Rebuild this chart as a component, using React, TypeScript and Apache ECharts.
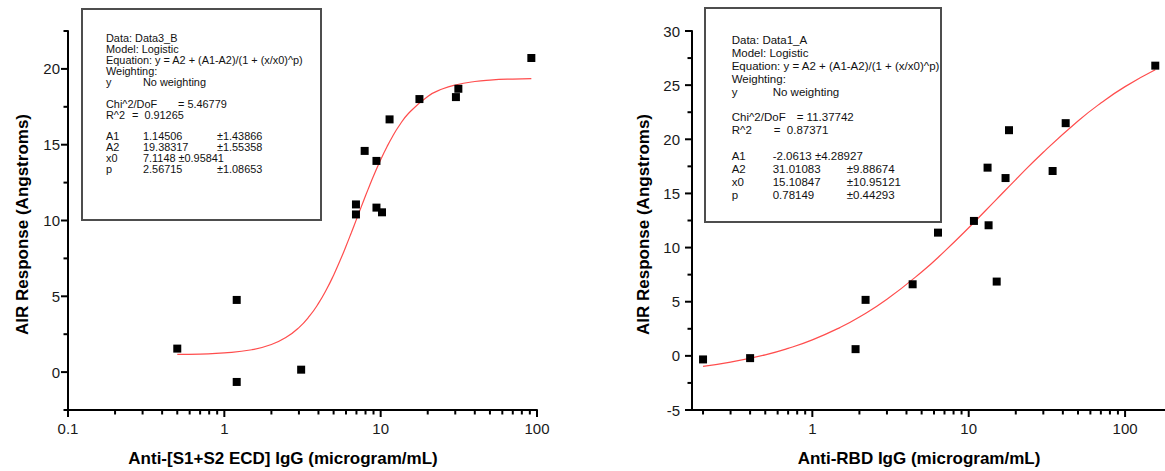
import React, { useEffect, useRef } from 'react';
import * as echarts from 'echarts';

// ---------- data ----------
const leftX = [0.5, 1.2, 1.2, 3.1, 6.95, 6.95, 7.9, 9.4, 9.4, 10.2, 11.4, 17.7, 30.3, 31.4, 92];
const leftY = [1.55, 4.76, -0.65, 0.16, 11.06, 10.4, 14.59, 13.93, 10.85, 10.54, 16.67, 18.01, 18.14, 18.69, 20.72];

const leftFitX = [0.5, 0.7, 1, 1.5, 2, 2.5, 3, 3.5, 4, 4.5, 5, 5.5, 6, 6.5, 7, 7.5, 8, 8.5, 9, 10, 11, 12, 13, 15, 20, 25, 30, 40, 50, 70, 92];
const leftFitY = [1.165, 1.192, 1.263, 1.474, 1.82, 2.309, 2.936, 3.685, 4.531, 5.445, 6.396, 7.356, 8.301, 9.211, 10.074, 10.88, 11.627, 12.311, 12.935, 14.013, 14.891, 15.604, 16.183, 17.04, 18.183, 18.686, 18.94, 19.169, 19.262, 19.332, 19.358];

const rightX = [0.2, 0.4, 1.89, 2.19, 4.38, 6.36, 10.8, 13.2, 13.4, 15.1, 17.2, 18.1, 34.4, 41.7, 156];
const rightY = [-0.33, -0.21, 0.62, 5.17, 6.61, 11.38, 12.46, 17.38, 12.06, 6.86, 16.42, 20.84, 17.07, 21.49, 26.8];

const rightFitX = [0.2, 0.3, 0.5, 0.7, 1, 1.5, 2, 3, 5, 7, 10, 15, 20, 30, 50, 70, 100, 156];
const rightFitY = [-0.972, -0.584, 0.094, 0.688, 1.477, 2.61, 3.586, 5.228, 7.744, 9.648, 11.831, 14.429, 16.28, 18.805, 21.69, 23.345, 24.864, 26.418];

const leftXMajor = [0.1, 1, 10, 100];
const leftXMinor = [0.2, 0.3, 0.4, 0.5, 0.6, 0.7, 0.8, 0.9, 2, 3, 4, 5, 6, 7, 8, 9, 20, 30, 40, 50, 60, 70, 80, 90];
const leftYMajor = [0, 5, 10, 15, 20];
const leftYMinor = [-2.5, 2.5, 7.5, 12.5, 17.5, 22.5];

const rightXMajor = [1, 10, 100];
const rightXMinor = [0.2, 0.3, 0.4, 0.5, 0.6, 0.7, 0.8, 0.9, 2, 3, 4, 5, 6, 7, 8, 9, 20, 30, 40, 50, 60, 70, 80, 90];
const rightYMajor = [-5, 0, 5, 10, 15, 20, 25, 30];
const rightYMinor = [-2.5, 2.5, 7.5, 12.5, 17.5, 22.5, 27.5];

const leftXRange = [0.1, 100];
const leftYRange = [-2.5, 22.5];
const rightXRange = [0.17, 180];
const rightYRange = [-5, 30];

const leftXTitle = 'Anti-[S1+S2 ECD] IgG (microgram/mL)';
const rightXTitle = 'Anti-RBD IgG (microgram/mL)';
const yTitle = 'AIR Response (Angstroms)';

const leftBoxRows: string[][] = [
  ['Data: Data3_B'],
  ['Model: Logistic'],
  ['Equation: y = A2 + (A1-A2)/(1 + (x/x0)^p)'],
  ['Weighting:'],
  ['y', 'No weighting'],
  [],
  ['Chi^2/DoF', '= 5.46779'],
  ['R^2', '=  0.91265'],
  [],
  ['A1', '1.14506', '±1.43866'],
  ['A2', '19.38317', '±1.55358'],
  ['x0', '7.1148 ±0.95841'],
  ['p', '2.56715', '±1.08653'],
];

const rightBoxRows: string[][] = [
  ['Data: Data1_A'],
  ['Model: Logistic'],
  ['Equation: y = A2 + (A1-A2)/(1 + (x/x0)^p)'],
  ['Weighting:'],
  ['y', 'No weighting'],
  [],
  ['Chi^2/DoF', '= 11.37742'],
  ['R^2', '=  0.87371'],
  [],
  ['A1', '-2.0613 ±4.28927'],
  ['A2', '31.01083', '±9.88674'],
  ['x0', '15.10847', '±10.95121'],
  ['p', '0.78149', '±0.44293'],
];

const FONT = '"Liberation Sans", Arial, Helvetica, sans-serif';
const AXIS_COLOR = '#000';
const LABEL_SIZE = 15;

function zip(xs: number[], ys: number[]) {
  return xs.map((x, i) => [x, ys[i]]);
}

function boxGraphics(
  rows: string[][],
  rect: { x: number; y: number; w: number; h: number },
  textX: number,
  firstY: number,
  step: number,
  fontSize: number,
  col2: number,
  col3: number,
  chiCol: number,
  rCol: number
) {
  const els: any[] = [
    {
      type: 'rect',
      shape: { x: rect.x, y: rect.y, width: rect.w, height: rect.h },
      style: { fill: '#fff', stroke: '#4d4d4d', lineWidth: 2 },
      z: 10,
    },
  ];
  rows.forEach((row, i) => {
    row.forEach((t, j) => {
      let x = textX;
      if (j === 1) {
        if (row[0] === 'Chi^2/DoF') x = textX + chiCol;
        else if (row[0] === 'R^2') x = textX + rCol;
        else x = textX + col2;
      } else if (j === 2) x = textX + col3;
      els.push({
        type: 'text',
        x,
        y: firstY + i * step,
        z: 11,
        style: {
          text: t,
          font: `${fontSize}px ${FONT}`,
          fill: '#111',
          align: 'left',
          verticalAlign: 'middle',
        },
      });
    });
  });
  return els;
}

function xAxisOpt(gridIndex: number, range: number[], labels: number[]) {
  return {
    type: 'log',
    gridIndex,
    min: range[0],
    max: range[1],
    position: 'bottom',
    logBase: 10,
    axisLine: { show: true, onZero: false, lineStyle: { color: AXIS_COLOR, width: 2 } },
    axisTick: { show: false },
    axisLabel: {
      show: true,
      customValues: labels,
      margin: 11,
      fontSize: LABEL_SIZE,
      fontFamily: FONT,
      color: '#1a1a1a',
      formatter: (v: number) => String(v),
    },
    splitLine: { show: false },
    minorTick: { show: false },
  };
}

function yAxisOpt(gridIndex: number, range: number[], labels: number[], margin: number) {
  return {
    type: 'value',
    gridIndex,
    min: range[0],
    max: range[1],
    position: 'left',
    axisLine: { show: true, onZero: false, lineStyle: { color: AXIS_COLOR, width: 2 } },
    axisTick: { show: false },
    axisLabel: {
      show: true,
      customValues: labels,
      margin,
      fontSize: LABEL_SIZE,
      fontFamily: FONT,
      color: '#1a1a1a',
    },
    splitLine: { show: false },
  };
}

// tick marks drawn through the axes' own scales (api.coord)
function tickSeries(axisIndex: number, values: number[], fixed: number, dir: 'x' | 'y', len: number) {
  const data = values.map((v) => (dir === 'x' ? [v, fixed] : [fixed, v]));
  return {
    type: 'custom',
    xAxisIndex: axisIndex,
    yAxisIndex: axisIndex,
    data,
    clip: false,
    silent: true,
    z: 5,
    renderItem: (_params: any, api: any) => {
      const p = api.coord([api.value(0), api.value(1)]);
      const shape =
        dir === 'x'
          ? { x1: p[0], y1: p[1], x2: p[0], y2: p[1] + len }
          : { x1: p[0] - len, y1: p[1], x2: p[0], y2: p[1] };
      return {
        type: 'line',
        shape,
        style: { stroke: AXIS_COLOR, lineWidth: 2 },
      };
    },
  };
}

export default function App() {
  const ref = useRef<HTMLDivElement>(null);

  useEffect(() => {
    if (!ref.current) return;
    const chart = echarts.init(ref.current, null, { renderer: 'svg' });

    const titleStyle = (text: string) => ({
      text,
      font: `bold 17px ${FONT}`,
      fill: '#000',
      align: 'center',
      verticalAlign: 'middle',
    });

    const option: any = {
      animation: false,
      backgroundColor: '#fff',
      grid: [
        { left: 68, top: 31, width: 469, height: 379, containLabel: false },
        { left: 692, top: 31, width: 473, height: 379, containLabel: false },
      ],
      xAxis: [xAxisOpt(0, leftXRange, leftXMajor), xAxisOpt(1, rightXRange, rightXMajor)],
      yAxis: [yAxisOpt(0, leftYRange, leftYMajor, 8), yAxisOpt(1, rightYRange, rightYMajor, 12)],
      series: [
        tickSeries(0, leftXMajor, leftYRange[0], 'x', 7),
        tickSeries(0, leftXMinor, leftYRange[0], 'x', 4.5),
        tickSeries(0, leftYMajor, leftXRange[0], 'y', 7),
        tickSeries(0, leftYMinor, leftXRange[0], 'y', 4.5),
        tickSeries(1, rightXMajor, rightYRange[0], 'x', 7),
        tickSeries(1, rightXMinor, rightYRange[0], 'x', 4.5),
        tickSeries(1, rightYMajor, rightXRange[0], 'y', 7),
        tickSeries(1, rightYMinor, rightXRange[0], 'y', 4.5),
        {
          type: 'line',
          xAxisIndex: 0,
          yAxisIndex: 0,
          data: zip(leftFitX, leftFitY),
          showSymbol: false,
          smooth: true,
          lineStyle: { color: '#ff4d4d', width: 1.2 },
          z: 2,
        },
        {
          type: 'scatter',
          xAxisIndex: 0,
          yAxisIndex: 0,
          data: zip(leftX, leftY),
          symbol: 'rect',
          symbolSize: 8,
          itemStyle: { color: '#000', opacity: 1 },
          z: 3,
        },
        {
          type: 'line',
          xAxisIndex: 1,
          yAxisIndex: 1,
          data: zip(rightFitX, rightFitY),
          showSymbol: false,
          smooth: true,
          lineStyle: { color: '#ff4d4d', width: 1.2 },
          z: 2,
        },
        {
          type: 'scatter',
          xAxisIndex: 1,
          yAxisIndex: 1,
          data: zip(rightX, rightY),
          symbol: 'rect',
          symbolSize: 8,
          itemStyle: { color: '#000', opacity: 1 },
          z: 3,
        },
      ],
      graphic: [
        ...boxGraphics(leftBoxRows, { x: 82, y: 9, w: 239, h: 211 }, 106, 38.3, 10.9, 10.9, 37, 111, 72, 26),
        ...boxGraphics(rightBoxRows, { x: 705, y: 8, w: 236, h: 214 }, 731.7, 40, 12.9, 11.5, 41, 115, 65, 42),
        { type: 'text', x: 283, y: 458, style: titleStyle(leftXTitle) },
        { type: 'text', x: 919, y: 458, style: titleStyle(rightXTitle) },
        { type: 'text', x: 22, y: 224.5, rotation: Math.PI / 2, style: titleStyle(yTitle) },
        { type: 'text', x: 643, y: 224.5, rotation: Math.PI / 2, style: titleStyle(yTitle) },
      ],
    };

    chart.setOption(option);
    return () => chart.dispose();
  }, []);

  return (
    <div
      ref={ref}
      style={{ position: 'fixed', left: 0, top: 0, width: 1165, height: 471, background: '#fff' }}
    />
  );
}
